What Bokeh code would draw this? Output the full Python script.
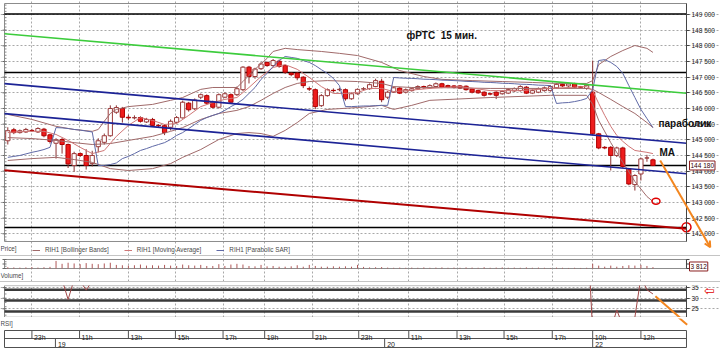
from bokeh.plotting import figure
from bokeh.layouts import column
from bokeh.models import (Range1d, LinearAxis, FixedTicker, Grid, Label, Arrow, OpenHead,
                          Legend, LegendItem, Div)
from bokeh.embed import file_html
from bokeh.resources import INLINE
from bokeh.core.properties import value

FONT = "Liberation Sans"

# ---------------- data (15-minute bars, RIH1) ----------------
opens = [144970, 145320, 145230, 145250, 145300, 145250, 145340, 145160, 144890, 145010,
         144850, 144180, 144560, 144500, 144240, 144780, 144920, 145130, 145880, 146000,
         145720, 145700, 145710, 145570, 145650, 145460, 145450, 145400, 145560, 145700,
         146170, 145990, 146360, 146410, 146200, 146040, 146360, 146440, 146440, 146600,
         147320, 147020, 147270, 147470, 147370, 147510, 147370, 147130, 147130, 147000,
         146630, 146600, 146090, 146410, 146580, 146600, 146600, 146310, 146470, 146620,
         146630, 146700, 146870, 146360, 146520, 146650, 146520, 146570, 146630, 146700,
         146660, 146700, 146790, 146730, 146720, 146720, 146710, 146620, 146570, 146520,
         146470, 146520, 146470, 146490, 146560, 146570, 146680, 146490, 146520, 146570,
         146570, 146660, 146770, 146720, 146790, 146690, 146640, 146520, 145190, 144760,
         144760, 144500, 144740, 144070, 143570, 143910, 144420, 144360]
highs = [145400, 145380, 145330, 145380, 145350, 145400, 145380, 145190, 145050, 145060,
         144880, 144620, 144600, 144700, 144650, 145050, 145200, 146100, 146100, 146050,
         145800, 145780, 145750, 145700, 145700, 145500, 145500, 145650, 145760, 146250,
         146210, 146320, 146480, 146450, 146250, 146480, 146520, 146480, 146700, 147350,
         147360, 147300, 147480, 147500, 147580, 147560, 147400, 147150, 147160, 147030,
         146700, 146640, 146460, 146640, 146640, 146660, 146640, 146510, 146640, 146680,
         146800, 146950, 146950, 146560, 146700, 146680, 146640, 146670, 146740, 146730,
         146770, 146830, 146820, 146760, 146750, 146750, 146740, 146650, 146600, 146550,
         146500, 146550, 146580, 146640, 146670, 146740, 146720, 146610, 146670, 146700,
         146740, 146810, 146800, 146820, 146820, 146720, 146780, 147530, 145220, 144800,
         144800, 144780, 144780, 144100, 143900, 144430, 144520, 144400]
lows = [144850, 145180, 145200, 145220, 145250, 145220, 145080, 144880, 144400, 144560,
        144100, 143980, 144450, 144050, 144150, 144600, 144850, 145100, 145830, 145550,
        145620, 145650, 145550, 145540, 145420, 145400, 145150, 145300, 145520, 145680,
        145900, 145950, 146300, 146130, 146000, 146000, 146330, 146150, 146400, 146550,
        146800, 146950, 147230, 147330, 147330, 147300, 147100, 147030, 146900, 146650,
        146560, 145980, 146050, 146380, 146520, 146550, 146250, 146280, 146440, 146580,
        146600, 146680, 146200, 146300, 146500, 146460, 146480, 146540, 146600, 146630,
        146630, 146670, 146650, 146650, 146640, 146620, 146570, 146480, 146470, 146380,
        146420, 146300, 146440, 146460, 146530, 146540, 146460, 146460, 146490, 146540,
        146540, 146630, 146690, 146690, 146650, 146650, 146600, 145150, 144700, 144700,
        144020, 144450, 144100, 143550, 143380, 143700, 144300, 144160]
closes = [145290, 145230, 145290, 145330, 145290, 145360, 145130, 144950, 145000, 144850,
          144230, 144560, 144500, 144180, 144500, 144970, 145130, 146000, 146030, 145720,
          145700, 145710, 145590, 145650, 145460, 145450, 145230, 145590, 145710, 146200,
          145960, 146270, 146440, 146170, 146040, 146440, 146470, 146200, 146630, 147320,
          147020, 147260, 147420, 147370, 147530, 147340, 147160, 147080, 146980, 146730,
          146620, 146060, 146410, 146600, 146570, 146610, 146310, 146470, 146610, 146630,
          146760, 146890, 146280, 146520, 146660, 146490, 146600, 146630, 146700, 146660,
          146730, 146790, 146680, 146680, 146670, 146650, 146600, 146520, 146500, 146420,
          146460, 146420, 146540, 146600, 146630, 146700, 146490, 146570, 146630, 146660,
          146700, 146770, 146720, 146780, 146680, 146680, 146740, 145190, 144740, 144740,
          144500, 144740, 144150, 143590, 143860, 144390, 144420, 144180]
volumes = [3500, 3000, 2500, 3000, 4000, 2500, 3500, 4500, 21000, 13000,
           16000, 14000, 12000, 15000, 13000, 12000, 14000, 16000, 10000, 9000,
           8000, 9000, 11000, 8000, 9000, 8000, 10000, 8000, 7000, 11000,
           9000, 8000, 10000, 7000, 7000, 12000, 7000, 11000, 13000, 11000,
           7000, 6000, 10000, 6000, 7000, 5000, 5000, 6000, 9000, 5000,
           10000, 7000, 5000, 5000, 6000, 5000, 6000, 5000, 10000, 4500,
           3000, 3500, 4000, 2500, 2000, 2500, 2000, 2500, 2000, 3000,
           2000, 2500, 3000, 2000, 2500, 2000, 3000, 2500, 2000, 3500,
           2000, 2500, 3000, 2000, 2500, 2000, 3000, 2000, 2500, 2000,
           1500, 2500, 2000, 1500, 2000, 1500, 2000, 13000, 8000, 5000,
           8000, 5000, 7000, 9000, 8000, 10000, 7000, 3812]
rsi_values = [55, 52, 54, 56, 54, 57, 48, 43, 45, 38.8,
              29.4, 38.8, 38.2, 33.8, 38.2, 49, 53, 68, 69, 60,
              59, 59, 56, 57, 52, 52, 47, 55, 58, 68,
              61, 66, 69, 61, 58, 66, 67, 60, 68, 80,
              70, 74, 77, 75, 78, 70, 64, 62, 59, 52,
              50, 40, 49, 53, 52, 53, 46, 50, 53, 54,
              57, 60, 45, 50, 53, 49, 52, 53, 55, 54,
              56, 57, 54, 54, 54, 53, 52, 49, 48, 46,
              47, 46, 49, 51, 52, 54, 49, 51, 53, 54,
              55, 58, 57, 59, 60, 62, 70, 14, 11, 11,
              15, 24.5, 17, 12, 21, 40, 34, 32]
sar_values = [144440, 144470, 144500, 144550, 144600, 144640, 144690, 144760, 145390, 145380,
              145360, 145330, 145310, 145280, 145250, 144180, 144180, 144210, 144260, 144400,
              144470, 144560, 144660, 144720, 144790, 144850, 144910, 145010, 145140, 145230,
              145360, 145490, 145620, 145710, 145780, 145840, 145940, 146060, 146160, 146290,
              146480, 146670, 146930, 147120, 147340, 147530, 147660, 147630, 147600, 147530,
              147470, 147370, 147240, 147120, 146960, 146730, 146060, 146060, 146070, 146080,
              146080, 146090, 146100, 146100, 146990, 146975, 146965, 146960, 146950, 146935,
              146930, 146920, 146905, 146900, 146890, 146880, 146865, 146860, 146850, 146835,
              146830, 146820, 146805, 146800, 146790, 146775, 146770, 146760, 146745, 146740,
              146730, 146160, 146180, 146190, 146220, 146260, 146320, 146600, 147530, 147560,
              147470, 147340, 147120, 146730, 146350, 145970, 145680, 145390]

bb_upper_idx = [0, 4, 8, 11, 14, 15, 16, 17, 18, 20, 24, 27, 29, 32, 34, 38, 39, 41, 43, 44,
                46, 48, 52, 55, 58, 62, 65, 69, 72, 77, 82, 87, 91, 96, 97, 98, 100, 102, 104, 106, 107]
bb_upper = [145810, 145650, 145430, 145330, 145270, 145330, 145590, 145840, 145970, 146060,
            146130, 146260, 146350, 146610, 146670, 146670, 146860, 147250, 147600, 147820,
            147920, 147880, 147820, 147760, 147690, 147470, 147210, 147020, 146930, 146890,
            146860, 146830, 146800, 146800, 146890, 147400, 147660, 147850, 148010, 147920, 147790]
bb_mid_idx = [0, 4, 8, 11, 14, 17, 20, 24, 27, 29, 32, 35, 38, 40, 42, 44, 46, 48, 50, 53,
              58, 62, 64, 67, 70, 80, 90, 96, 97, 98, 100, 102, 104, 106, 107]
bb_mid = [145070, 145040, 144980, 144910, 144850, 144880, 144980, 145110, 145270, 145390,
          145650, 145840, 145940, 146060, 146260, 146480, 146670, 146800, 146860, 146890,
          146860, 146800, 146700, 146670, 146670, 146640, 146640, 146640, 146610, 146510,
          146290, 146060, 145840, 145550, 145390]
bb_lower_idx = bb_mid_idx
bb_lower = [144340, 144400, 144440, 144370, 144280, 144080, 144020, 144080, 144240, 144440,
            144690, 145010, 145200, 145230, 145200, 145110, 145300, 145550, 145840, 145970,
            146030, 146100, 145970, 146100, 146260, 146350, 146420, 146420, 146130, 145620,
            144910, 144280, 143670, 143190, 143030]
ma_idx = [0, 3, 6, 8, 10, 12, 14, 16, 18, 20, 22, 24, 26, 28, 30, 32, 34, 36, 38, 40,
          42, 44, 46, 48, 50, 52, 54, 56, 58, 60, 62, 64, 66, 70, 75, 80, 85, 90, 96, 97,
          98, 99, 100, 101, 102, 103, 104, 105, 106, 107]
ma_values = [145230, 145270, 145270, 145170, 144980, 144760, 144560, 144660, 145110, 145460,
             145710, 145620, 145490, 145520, 145780, 146060, 146190, 146290, 146350, 146670,
             147020, 147310, 147400, 147250, 146990, 146700, 146480, 146480, 146510, 146640,
             146640, 146540, 146570, 146640, 146700, 146570, 146570, 146640, 146700, 146570,
             146160, 145780, 145430, 145140, 144950, 144790, 144660, 144630, 144600, 144560]

# hand-drawn trend lines and marks (bar index, price)
line_x = [-0.55, 112.56]
green_line = [148387, 146488]
blue_upper_line = [146793, 144892]
blue_lower_line = [145835, 143915]
red_line = [144025, 142160]
black_levels = [149020, 147150, 144180, 142200]
arrow_price_x = [108.2, 116.5]
arrow_price_y = [144340, 141572]
arrow_rsi_x = [107.4, 112.67]
arrow_rsi_y = [30.9, 17.9]
circle_small = (107.5, 143040)
circle_big = (112.56, 142210)
rsi_levels = [34.0, 28.9, 23.7]

price_ticks = list(range(142000, 149001, 500))
price_tick_labels = ["%d %03d" % (t // 1000, t % 1000) for t in price_ticks]
price_minor = list(range(141800, 149301, 100))
rsi_ticks = [25, 30, 35]
rsi_minor = [22, 24, 26, 28, 32, 34]
vol_ticks = [0, 12500, 25000]
vol_minor = [6250, 18750]

tick_pos = [4.0, 11.9, 20.0, 27.8, 35.7, 42.6, 50.6, 58.2, 66.5, 74.5, 82.3, 90.3, 97.0, 105.0]
tick_labels = ["23h", "11h", "13h", "15h", "17h", "19h", "21h", "23h", "11h", "13h", "15h", "17h", "10h", "12h"]
day_pos = [7.9, 62.5, 97.0]
day_labels = ["19", "20", "22"]

BB_COLOR = "#a06a6a"
MA_COLOR = "#cf7777"
SAR_COLOR = "#5f69a6"
GREEN = "#3ccc3c"
NAVY = "#1c2396"
DARKRED = "#b00000"
ORANGE = "#f3861f"
GRID = "#a8a8a8"
BOX = "#8c8c8c"
TXT = "#4a4a4a"

N = len(closes)
idx = list(range(N))
X_L, X_R = -0.547, 112.56          # panel edges (bar units)
TK = 0.33                          # ~2 px tick length in bar units
x_range = Range1d(-1.211, 118.20)  # whole 720 px window


def make_fig(h, y0, y1, top=0, bottom=0):
    f = figure(width=720, height=h, x_range=x_range, y_range=Range1d(y0, y1),
               toolbar_location=None, output_backend="svg",
               x_axis_location=None, y_axis_location=None,
               min_border_left=0, min_border_right=0,
               min_border_top=top, min_border_bottom=bottom)
    f.outline_line_color = None
    f.background_fill_color = "white"
    f.border_fill_color = "white"
    for g in list(f.center):
        if isinstance(g, Grid):
            g.visible = False
    return f


def panel(f, b, t, hticks=None):
    f.add_layout(Grid(dimension=0, ticker=FixedTicker(ticks=tick_pos), bounds=(b, t),
                      grid_line_color=GRID, grid_line_dash="2 2"))
    if hticks:
        f.add_layout(Grid(dimension=1, ticker=FixedTicker(ticks=hticks), bounds=(X_L, X_R),
                          grid_line_color=GRID, grid_line_dash="2 2"))
    f.quad(left=[X_L], right=[X_R], bottom=[b], top=[t], fill_color=None,
           line_color=BOX, line_width=1)


def left_ticks(f, ticks, minor):
    f.segment(x0=[X_L - TK] * len(ticks), y0=ticks, x1=[X_L + TK] * len(ticks), y1=ticks,
              line_color="#666", line_width=1)
    f.segment(x0=[X_L] * len(minor), y0=minor, x1=[X_L + TK] * len(minor), y1=minor,
              line_color="#888", line_width=1)


def right_axis(f, b, t, ticks, labels=None):
    kw = {}
    if labels is not None:
        kw["major_label_overrides"] = labels
    rax = LinearAxis(fixed_location=X_R, bounds=(b, t), ticker=FixedTicker(ticks=ticks),
                     major_label_text_font=FONT, major_label_text_font_size="6.5px",
                     major_label_text_color="#222", major_label_standoff=2,
                     major_tick_out=3, major_tick_in=0, minor_tick_out=0, minor_tick_in=0,
                     axis_line_color="#444", major_tick_line_color="#444", **kw)
    f.add_layout(rax, "right")


def lbl(f, x, y, text, size="6.3px", color=TXT, **kw):
    f.add_layout(Label(x=x, y=y, x_units="screen", y_units="screen", text=text,
                       text_font=kw.pop("font", FONT), text_font_size=size,
                       text_color=color, **kw))


# ---------------- price panel (canvas rows 0..255) ----------------
P_TOP, P_BOT = 149351, 141754
p = make_fig(255, 141307, 149447)
panel(p, P_BOT, P_TOP, price_ticks)
left_ticks(p, price_ticks, price_minor)
right_axis(p, P_BOT, P_TOP, price_ticks, dict(zip(price_ticks, price_tick_labels)))

for lv in black_levels:
    p.line(line_x, [lv, lv], line_color="black", line_width=1.5)

up = [i for i in idx if closes[i] >= opens[i]]
dn = [i for i in idx if closes[i] < opens[i]]
p.segment(x0=idx, y0=lows, x1=idx, y1=highs, line_color="#8a3030", line_width=1)
p.vbar(x=up, top=[closes[i] for i in up], bottom=[opens[i] for i in up], width=0.7,
       fill_color="white", line_color="#9a3a3a", line_width=1)
p.vbar(x=dn, top=[opens[i] for i in dn], bottom=[closes[i] for i in dn], width=0.7,
       fill_color="#ee1c1c", line_color="#b00000", line_width=1)

r_bb = p.line(bb_upper_idx, bb_upper, line_color=BB_COLOR, line_width=1)
p.line(bb_mid_idx, bb_mid, line_color=BB_COLOR, line_width=1)
p.line(bb_lower_idx, bb_lower, line_color=BB_COLOR, line_width=1)
r_ma = p.line(ma_idx, ma_values, line_color=MA_COLOR, line_width=1)
r_sar = p.line(idx, sar_values, line_color=SAR_COLOR, line_width=1)

p.line(line_x, green_line, line_color=GREEN, line_width=1.6)
p.line(line_x, blue_upper_line, line_color=NAVY, line_width=1.6)
p.line(line_x, blue_lower_line, line_color=NAVY, line_width=1.6)
p.line(line_x, red_line, line_color=DARKRED, line_width=2)

p.ellipse(x=[circle_small[0]], y=[circle_small[1]], width=8, height=6,
          width_units="screen", height_units="screen",
          fill_color=None, line_color="#e00000", line_width=1.5)
p.ellipse(x=[circle_big[0]], y=[circle_big[1]], width=9, height=9,
          width_units="screen", height_units="screen",
          fill_color=None, line_color="#e00000", line_width=1.5)
p.add_layout(Arrow(end=OpenHead(size=6, line_color=ORANGE, line_width=2),
                   x_start=arrow_price_x[0], y_start=arrow_price_y[0],
                   x_end=arrow_price_x[1], y_end=arrow_price_y[1],
                   line_color=ORANGE, line_width=2))

lbl(p, 406, 214.5, "\u0444\u0420\u0422\u0421\u00a0\u00a015 \u043c\u0438\u043d.",
    size="10px", color="#111", text_font_style="bold")
lbl(p, 658, 126.7, "\u043f\u0430\u0440\u0430\u0431\u043e\u043b\u0438\u043a",
    size="10px", color="#111", text_font_style="bold")
lbl(p, 659, 98, "MA", size="10px", color="#111", text_font_style="bold")
lbl(p, 0, 4, "Price]")
p.add_layout(Label(x=689, y=closes[-1], x_units="screen", text="144 180",
                   text_font=FONT, text_font_size="6.5px", text_color="#300",
                   text_baseline="middle", padding=1,
                   border_line_color="#8b2020", border_line_width=1,
                   background_fill_color="white"))
legend = Legend(items=[LegendItem(label="RIH1 [Bollinger Bands]", renderers=[r_bb]),
                       LegendItem(label="RIH1 [Moving Average]", renderers=[r_ma]),
                       LegendItem(label="RIH1 [Parabolic SAR]", renderers=[r_sar])],
                location=(32, 2), orientation="horizontal",
                label_text_font=FONT, label_text_font_size="6.3px", label_text_color=TXT,
                glyph_width=8, glyph_height=6, label_height=6, label_standoff=5,
                spacing=15, padding=0, margin=0, border_line_color=None,
                background_fill_alpha=0)
p.add_layout(legend)

# ---------------- volume panel (rows 256..281) ----------------
v = make_fig(25, -36111, 33333)
panel(v, 0, 25000)
left_ticks(v, vol_ticks, vol_minor)
v.segment(x0=[X_R] * len(vol_ticks), y0=vol_ticks, x1=[X_R + 0.5] * len(vol_ticks),
          y1=vol_ticks, line_color="#444", line_width=1)
v.line([X_R, X_R], [0, 25000], line_color="#444", line_width=1)
v.segment(x0=idx, y0=[0] * N, x1=idx, y1=volumes, line_color="#b05858", line_width=1)
v.add_layout(Label(x=689, y=5556, x_units="screen", text="3 812",
                   text_font=FONT, text_font_size="6.5px", text_color="#300",
                   text_baseline="middle", padding=1,
                   border_line_color="#8b2020", border_line_width=1,
                   background_fill_color="white"))
lbl(v, 0, 3, "Volume]")

# ---------------- RSI panel (rows 282..317, frame 285..317) ----------------
r = make_fig(35, 20.9, 36.0, top=3)
panel(r, 21.0, 35.95, rsi_ticks)
left_ticks(r, rsi_ticks, rsi_minor)
right_axis(r, 21.0, 35.95, rsi_ticks)
for lv in rsi_levels:
    r.line(line_x, [lv, lv], line_color="#3a3a3a", line_width=2.5)
r.line(idx, rsi_values, line_color="#a04848", line_width=1)
r.add_layout(Arrow(end=None, x_start=arrow_rsi_x[0], y_start=arrow_rsi_y[0],
                   x_end=arrow_rsi_x[1], y_end=arrow_rsi_y[1],
                   line_color=ORANGE, line_width=2))
lbl(r, 709, 27.3, "\u21e6", size="13px", color="#e00000", font="DejaVu Sans",
    text_align="center", text_baseline="middle")

# strip under the RSI panel (rows 317..328), same RSI scale
s = make_fig(11, 15.71, 20.9)
s.add_layout(Arrow(end=None, x_start=arrow_rsi_x[0], y_start=arrow_rsi_y[0],
                   x_end=arrow_rsi_x[1], y_end=arrow_rsi_y[1],
                   line_color=ORANGE, line_width=2))
lbl(s, 0, 2.7, "RSI]")

# ---------------- time scale (rows 328..348) ----------------
t = make_fig(20, 0, 20)
nt, nd = len(tick_pos), len(day_pos)
t.quad(left=[X_L], right=[X_R], bottom=[1], top=[18], fill_color=None,
       line_color="#505050", line_width=1)
t.line([X_L, X_R], [10, 10], line_color="#505050", line_width=1)
t.segment(x0=tick_pos, y0=[10] * nt, x1=tick_pos, y1=[18] * nt,
          line_color="#505050", line_width=1)
t.segment(x0=day_pos, y0=[1] * nd, x1=day_pos, y1=[10] * nd,
          line_color="#505050", line_width=1)
t.text(x=tick_pos, y=[11.5] * nt, text=tick_labels, x_offset=2,
       text_font=value(FONT), text_font_size="7px", text_color="#222",
       text_baseline="alphabetic")
t.text(x=day_pos, y=[3.7] * nd, text=day_labels, x_offset=2.5,
       text_font=value(FONT), text_font_size="7px", text_color="#222",
       text_baseline="alphabetic")


def sep():
    return Div(width=720, height=1, margin=0, styles={"background-color": "#c4c4c4"})


layout = column(p, sep(), v, sep(), r, s, t, spacing=0)
open("out.html", "w").write(file_html(layout, INLINE))
